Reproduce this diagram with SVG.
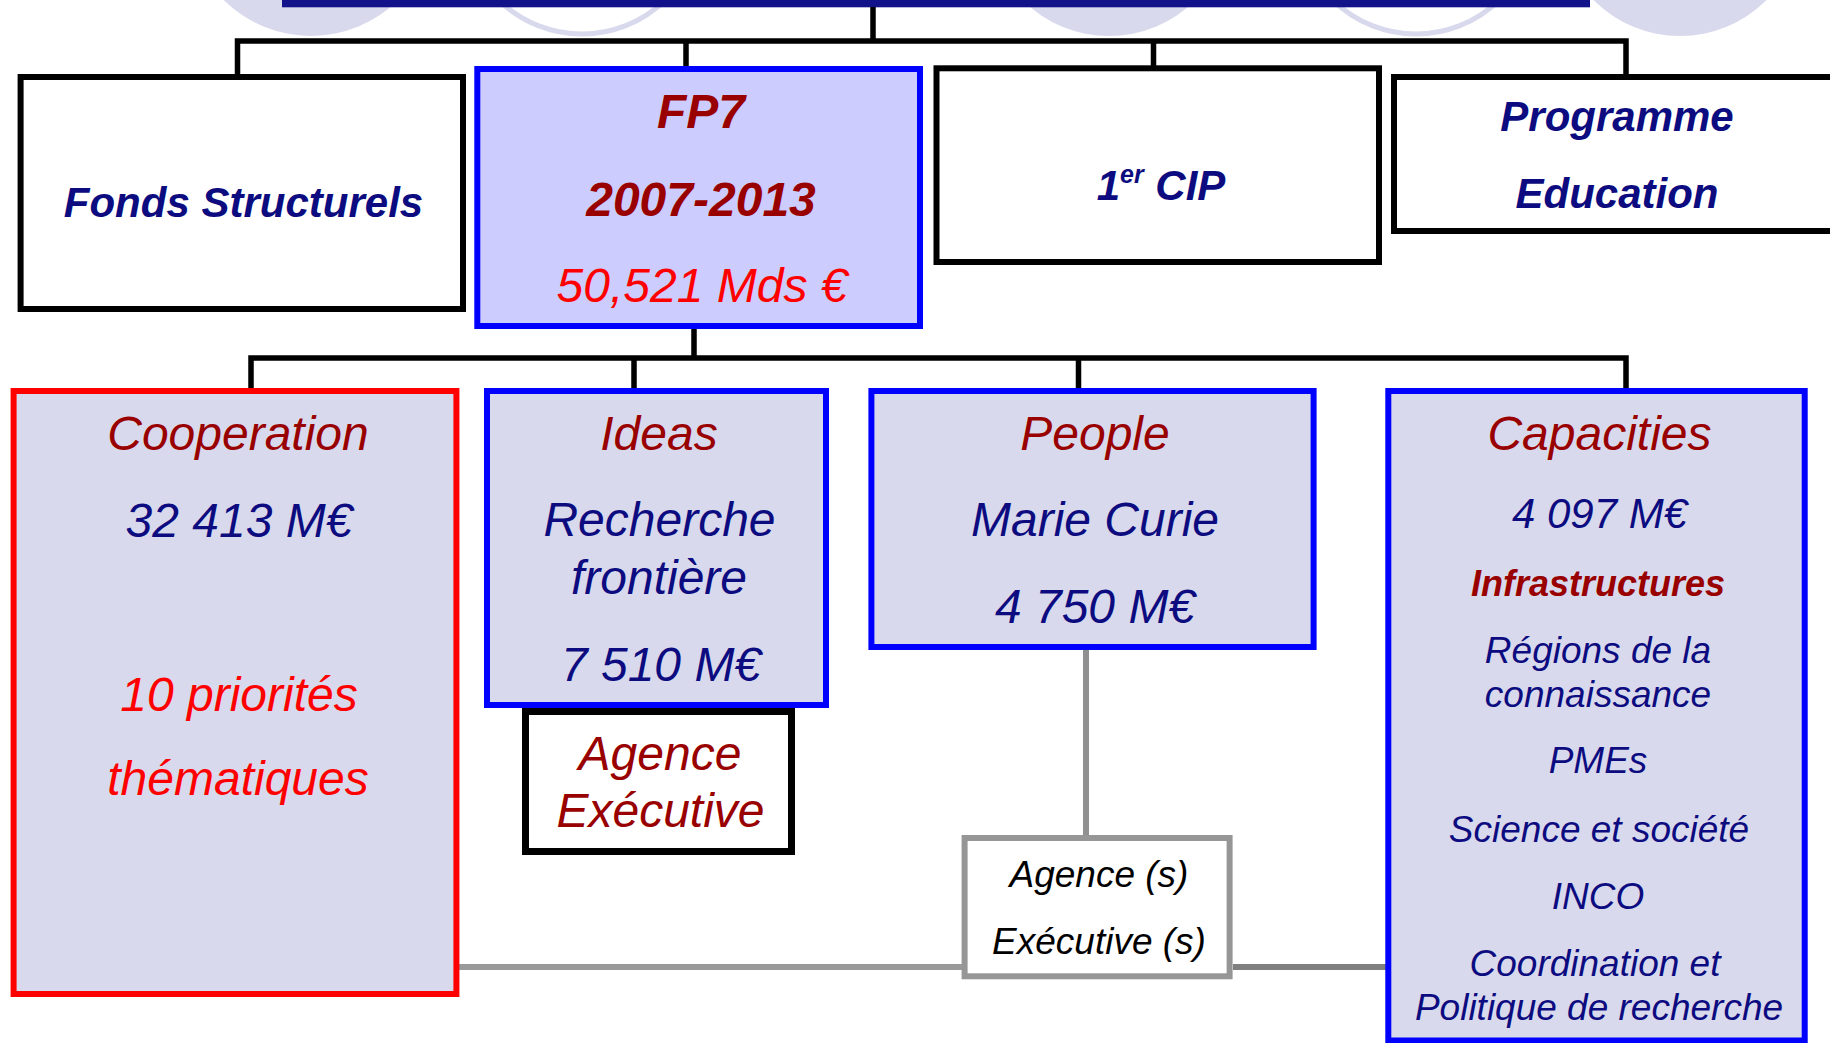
<svg xmlns="http://www.w3.org/2000/svg" width="1830" height="1043" viewBox="0 0 1830 1043">
<style>
text{font-family:"Liberation Sans",Arial,sans-serif;font-style:italic;text-anchor:middle}
.b{font-weight:bold}
.navy{fill:#0c0c80}
.dred{fill:#990000}
.red{fill:#ff0000}
.blk{fill:#000000}
.f48{font-size:48px}
.f42{font-size:42px}
.f37{font-size:37px}
.deco{fill:#d9d9ed}
.ring{fill:none;stroke:#d9d9ed;stroke-width:5}
.wbox{fill:#ffffff;stroke:#000000;stroke-width:6}
.bbox{fill:#d9d9ed;stroke:#0000ff;stroke-width:6}
.conn{fill:none;stroke:#000000;stroke-width:5.5}
.gconn{fill:none;stroke-width:6}
</style>
<rect width="1830" height="1043" fill="#ffffff"/>
<g id="decoration">
<circle class="deco" cx="311" cy="-88" r="124"/>
<circle class="ring" cx="582" cy="-85" r="119"/>
<circle class="deco" cx="1109" cy="-86" r="122"/>
<circle class="ring" cx="1416" cy="-85" r="119"/>
<circle class="deco" cx="1680" cy="-86" r="122"/>
<rect x="282" y="-10" width="1308" height="17.3" fill="#12128a"/>
</g>
<g id="connectors">
<path class="conn" d="M873,7 V41 M237.5,75 V41 H1626 V75 M686,41 V70 M1153.5,41 V68"/>
<path class="conn" d="M694,328 V358 M251,389 V358 H1626 V389 M634,358 V389 M1078.5,358 V389"/>
<path class="gconn" stroke="#909090" stroke-width="5" d="M1086,650 V836"/>
<path class="gconn" stroke="#9a9a9a" d="M459,967 H962"/>
<path class="gconn" stroke="#808080" d="M1233,967 H1386"/>
</g>
<g id="fonds">
<rect class="wbox" x="20.6" y="77" width="442.4" height="232"/>
<text class="b navy f42" x="243.5" y="216.5">Fonds Structurels</text>
</g>
<g id="fp7">
<rect x="477.3" y="69" width="442.7" height="257" fill="#ccccff" stroke="#0000ff" stroke-width="6"/>
<text class="b dred f48" x="701" y="128">FP7</text>
<text class="b dred f48" x="701" y="216">2007-2013</text>
<text class="red f48" x="702" y="301.5">50,521 Mds €</text>
</g>
<g id="cip">
<rect class="wbox" x="936.5" y="68.3" width="442.5" height="193.7"/>
<text class="b navy f42" x="1161" y="200">1<tspan font-size="25" dy="-17">er</tspan><tspan dy="17"> CIP</tspan></text>
</g>
<g id="programme">
<rect class="wbox" x="1394" y="77" width="460" height="154"/>
<text class="b navy f42" x="1617" y="131">Programme</text>
<text class="b navy f42" x="1617" y="208.3">Education</text>
</g>
<g id="cooperation">
<rect x="13.6" y="391" width="442.8" height="603" fill="#d9d9ed" stroke="#ff0000" stroke-width="6"/>
<text class="dred f48" x="238" y="450">Cooperation</text>
<text class="navy f48" x="239" y="536.7">32 413 M€</text>
<text class="red f48" x="239" y="710.5">10 priorités</text>
<text class="red f48" x="238" y="795">thématiques</text>
</g>
<g id="ideas">
<rect class="bbox" x="487" y="391" width="339" height="314"/>
<text class="dred f48" x="659" y="450">Ideas</text>
<text class="navy f48" x="659.5" y="536">Recherche</text>
<text class="navy f48" x="659" y="594.3">frontière</text>
<text class="navy f48" x="661" y="680.7">7 510 M€</text>
</g>
<g id="agence-executive">
<rect x="525.5" y="711.5" width="266" height="140" fill="#ffffff" stroke="#000000" stroke-width="7"/>
<text class="dred f48" x="660" y="770">Agence</text>
<text class="dred f48" x="660.5" y="826.7">Exécutive</text>
</g>
<g id="people">
<rect class="bbox" x="871.4" y="391" width="442.2" height="256"/>
<text class="dred f48" x="1095" y="450">People</text>
<text class="navy f48" x="1095" y="536">Marie Curie</text>
<text class="navy f48" x="1095" y="622.7">4 750 M€</text>
</g>
<g id="agences">
<rect x="964.6" y="838" width="265" height="138.3" fill="#ffffff" stroke="#969696" stroke-width="6"/>
<text class="blk f37" x="1099" y="886.7">Agence (s)</text>
<text class="blk f37" x="1099" y="954">Exécutive (s)</text>
</g>
<g id="capacities">
<rect class="bbox" x="1388.3" y="391" width="416.4" height="649.5"/>
<text class="dred f48" x="1599.5" y="450">Capacities</text>
<text class="navy f42" x="1599.5" y="528.3">4 097 M€</text>
<text class="b dred" font-size="36" x="1598" y="596">Infrastructures</text>
<text class="navy f37" x="1598" y="662.7">Régions de la</text>
<text class="navy f37" x="1598" y="706.7">connaissance</text>
<text class="navy f37" x="1598" y="773.3">PMEs</text>
<text class="navy f37" x="1599" y="841.7">Science et société</text>
<text class="navy f37" x="1598" y="909.3">INCO</text>
<text class="navy f37" x="1595" y="976">Coordination et</text>
<text class="navy f37" x="1599" y="1020">Politique de recherche</text>
</g>
</svg>
